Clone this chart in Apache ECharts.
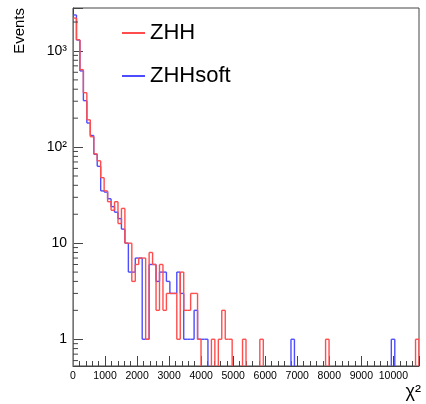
<!DOCTYPE html>
<html>
<head>
<meta charset="utf-8">
<script src="https://cdn.jsdelivr.net/npm/echarts@6/dist/echarts.min.js"></script>
<style>
  html, body { margin: 0; padding: 0; background: #fff; }
  #chart { width: 426px; height: 404px; }
</style>
</head>
<body>
<div id="chart"></div>
<script>
// histogram binning: 100 bins over 0..10800
const BIN_WIDTH = 108;
const X_MIN = 0;
const X_MAX = 10800;
const Y_MIN = 0.527;
const Y_MAX = 2800;

// ZHH (red), one value per bin
const zhh = [
  2200, 1310, 640, 368, 192, 128, 85, 72, 48, 35,
  27, 22, 27, 16, 23, 10, 10, 4, 6, 7,
  7, 1, 8, 6, 2, 6, 2, 3, 3, 3,
  1, 5, 2, 2, 3, 3, 1, 0, 0, 0,
  1, 0, 1, 2, 1, 1, 0, 0, 0, 1,
  0, 0, 0, 0, 1, 0, 0, 0, 0, 0,
  0, 0, 0, 0, 0, 0, 0, 0, 0, 0,
  0, 0, 0, 1, 0, 0, 0, 0, 0, 0,
  0, 0, 0, 0, 0, 0, 0, 0, 0, 0,
  0, 0, 0, 0, 0, 0, 0, 0, 0, 1
];

// ZHHsoft (blue)
const zhhSoft = [
  2370, 1300, 620, 304, 178, 132, 84, 63, 35, 34,
  29, 24, 21, 18, 14, 10, 5, 5, 7, 7,
  1, 1, 6, 6, 4, 5, 5, 4, 3, 3,
  5, 3, 1, 1, 1, 2, 1, 1, 1, 0,
  0, 0, 0, 0, 0, 0, 0, 0, 0, 0,
  0, 0, 0, 0, 0, 0, 0, 0, 0, 0,
  0, 0, 0, 1, 0, 0, 0, 0, 0, 0,
  0, 0, 0, 0, 0, 0, 0, 0, 0, 0,
  0, 0, 0, 0, 0, 0, 0, 0, 0, 0,
  0, 0, 1, 0, 0, 0, 0, 0, 0, 0
];

const seriesNames = ['ZHH', 'ZHHsoft'];
const yMajorTicks = [1, 10, 100, 1000];
const yMinorTicks = [
  0.6, 0.7, 0.8, 0.9,
  2, 3, 4, 5, 6, 7, 8, 9,
  20, 30, 40, 50, 60, 70, 80, 90,
  200, 300, 400, 500, 600, 700, 800, 900,
  2000
];

const FONT = '"Liberation Sans", Arial, sans-serif';
const AXIS_COLOR = '#444';

const chart = echarts.init(document.getElementById('chart'));

// [binLow, binHigh, value, previousValue]
function toSteps(values) {
  return values.map(function (v, i) {
    return [X_MIN + i * BIN_WIDTH, X_MIN + (i + 1) * BIN_WIDTH, v, i === 0 ? 0 : values[i - 1]];
  });
}

function renderStep(params, api) {
  const lo = api.value(0);
  const hi = api.value(1);
  const v = api.value(2);
  const prev = api.value(3);
  const yOf = function (val) { return api.coord([lo, val > 0 ? val : Y_MIN])[1]; };
  const xl = api.coord([lo, Y_MIN])[0];
  const xr = api.coord([hi, Y_MIN])[0];
  const children = [];
  if (v !== prev) {
    children.push({ type: 'line', shape: { x1: xl, y1: yOf(prev), x2: xl, y2: yOf(v) } });
  }
  if (v > 0) {
    children.push({ type: 'line', shape: { x1: xl, y1: yOf(v), x2: xr, y2: yOf(v) } });
    if (params.dataIndex === zhh.length - 1) {
      children.push({ type: 'line', shape: { x1: xr, y1: yOf(v), x2: xr, y2: yOf(0) } });
    }
  }
  const style = { stroke: api.visual('color'), lineWidth: 1.4, fill: null };
  children.forEach(function (c) { c.style = style; });
  return { type: 'group', children: children };
}

function renderMinorTick(params, api) {
  const p = api.coord([api.value(0), api.value(1)]);
  return {
    type: 'line',
    shape: { x1: p[0], y1: p[1], x2: p[0] + 5, y2: p[1] },
    style: { stroke: AXIS_COLOR, lineWidth: 1 }
  };
}

function isPowerOfTen(v) {
  const l = Math.log10(v);
  return Math.abs(l - Math.round(l)) < 1e-6;
}

const option = {
  animation: false,
  grid: {
    left: 73, right: 7, top: 8, bottom: 38,
    containLabel: false,
    show: true, borderColor: AXIS_COLOR, borderWidth: 1
  },
  legend: {
    orient: 'vertical',
    left: 122, top: 22, padding: 0,
    itemWidth: 23, itemHeight: 2, itemGap: 21,
    icon: 'rect',
    selectedMode: false,
    data: seriesNames,
    textStyle: { fontSize: 22, fontFamily: FONT, color: '#000' }
  },
  xAxis: {
    type: 'value',
    min: X_MIN, max: X_MAX, interval: 1000,
    axisLine: { onZero: false, lineStyle: { color: AXIS_COLOR } },
    axisTick: { inside: true, length: 10, lineStyle: { color: AXIS_COLOR } },
    minorTick: { show: true, splitNumber: 5, length: 5, lineStyle: { color: AXIS_COLOR } },
    splitLine: { show: false },
    axisLabel: {
      margin: 5, fontSize: 10.5, fontFamily: FONT, color: '#000',
      showMaxLabel: false,
      formatter: function (v) { return v % 1000 === 0 ? String(v) : ''; }
    }
  },
  yAxis: {
    type: 'log', logBase: 10,
    min: Y_MIN, max: Y_MAX,
    axisLine: { show: true, lineStyle: { color: AXIS_COLOR } },
    axisTick: { inside: true, length: 10, lineStyle: { color: AXIS_COLOR } },
    splitLine: { show: false },
    axisLabel: {
      margin: 6, fontSize: 14, fontFamily: FONT, color: '#000',
      formatter: function (v) {
        if (!isPowerOfTen(v) || yMajorTicks.indexOf(Math.round(v)) < 0) return '';
        if (v === 1) return '1';
        if (v === 10) return '10';
        return '10' + (v === 100 ? '\u00b2' : '\u00b3');
      }
    }
  },
  graphic: [
    {
      type: 'text', x: 20, y: 8, rotation: Math.PI / 2,
      style: { text: 'Events', font: '15px ' + FONT, fill: '#000', align: 'right', verticalAlign: 'middle' }
    },
    {
      type: 'text', x: 421, y: 392,
      style: { text: '\u03c7\u00b2', font: '18px ' + FONT, fill: '#000', align: 'right', verticalAlign: 'middle' }
    }
  ],
  series: [
    {
      name: 'ZHHsoft', type: 'custom', clip: true,
      itemStyle: { color: '#4d4dff' },
      encode: { x: [0, 1], y: 2 },
      data: toSteps(zhhSoft),
      renderItem: renderStep,
      silent: true
    },
    {
      name: 'ZHH', type: 'custom', clip: true,
      itemStyle: { color: '#ff4d4d' },
      encode: { x: [0, 1], y: 2 },
      data: toSteps(zhh),
      renderItem: renderStep,
      silent: true
    },
    {
      name: 'yMinorTicks', type: 'custom', clip: false,
      encode: { x: 0, y: 1 },
      data: yMinorTicks.map(function (v) { return [X_MIN, v]; }),
      renderItem: renderMinorTick,
      silent: true
    }
  ]
};

chart.setOption(option);
</script>
</body>
</html>
